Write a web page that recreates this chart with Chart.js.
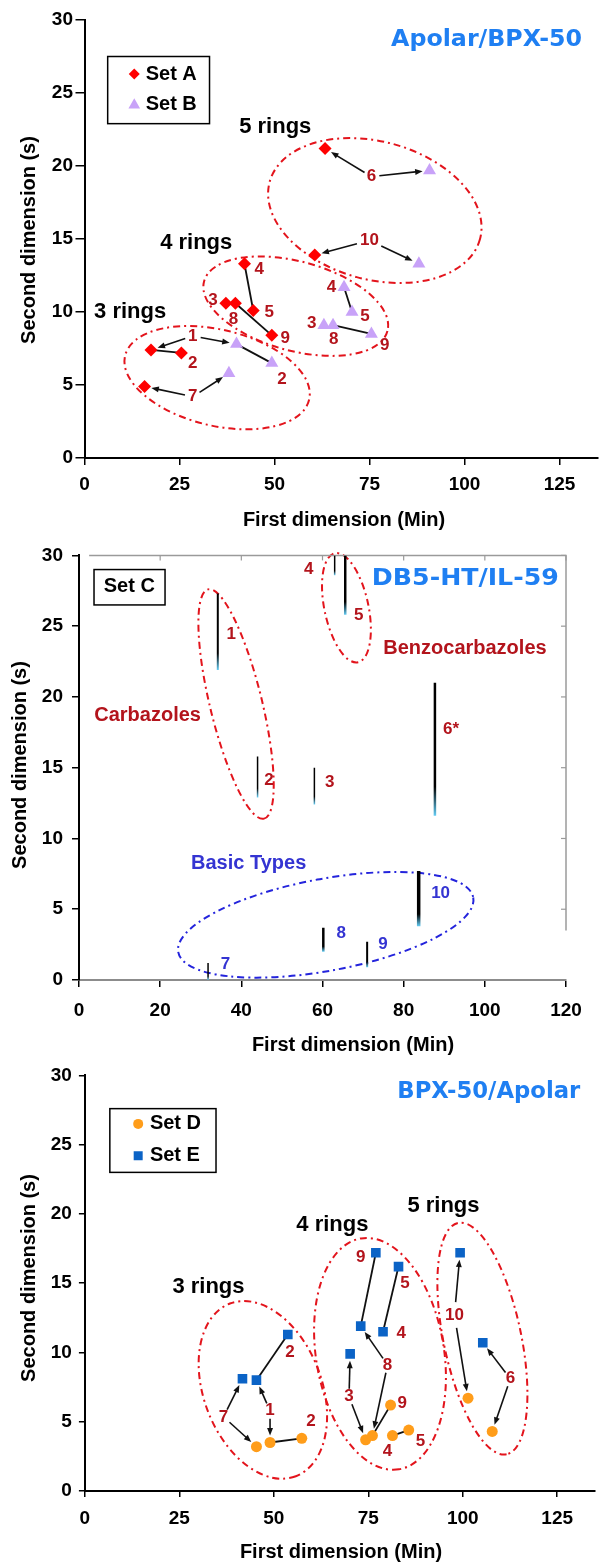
<!DOCTYPE html>
<html>
<head>
<meta charset="utf-8">
<script src="https://cdn.jsdelivr.net/npm/chart.js@4.4.0/dist/chart.umd.min.js"></script>
<style>
  body { margin: 0; background: #fff; width: 605px; height: 1563px; position: relative; overflow: hidden; }
  canvas { position: absolute; left: 0; }
</style>
</head>
<body>
<canvas id="c1" width="605" height="535" style="top:0px"></canvas>
<canvas id="c2" width="605" height="522" style="top:535px"></canvas>
<canvas id="c3" width="605" height="506" style="top:1057px"></canvas>
<script>
// ---- data (compound number n is at index n-1) ----
const compounds = [1, 2, 3, 4, 5, 6, 7, 8, 9, 10];

// Apolar/BPX-50
const setA_x = [17.5, 25.5, 37.2, 42.1, 44.4, 63.3, 15.8, 39.7, 49.3, 60.6];
const setA_y = [7.4, 7.2, 10.6, 13.3, 10.1, 21.2, 4.9, 10.6, 8.4, 13.9];
const setB_x = [40.0, 49.3, 63.0, 68.3, 70.4, 90.8, 38.0, 65.4, 75.5, 88.0];
const setB_y = [7.8, 6.5, 9.1, 11.7, 10.0, 19.7, 5.8, 9.1, 8.5, 13.3];

// DB5-HT/IL-59 (peaks: first dimension, top and bottom of streak)
const setC_names = ['1', '2', '3', '4', '5', '6*', '7', '8', '9', '10'];
const setC_x = [34.2, 44.0, 58.0, 63.0, 65.6, 87.7, 31.8, 60.2, 71.0, 83.7];
const setC_top = [27.3, 15.8, 15.0, 30.0, 30.0, 21.0, 1.2, 3.7, 2.7, 7.7];
const setC_bottom = [21.9, 12.9, 12.4, 28.6, 25.8, 11.6, 0.0, 2.0, 0.9, 3.8];

// BPX-50/Apolar
const setD_x = [49.0, 57.4, 74.3, 81.4, 85.7, 107.8, 45.4, 76.1, 80.9, 101.4];
const setD_y = [3.5, 3.8, 3.7, 4.0, 4.4, 4.3, 3.2, 4.0, 6.2, 6.7];
const setE_x = [45.4, 53.7, 70.2, 78.9, 83.0, 105.3, 41.7, 73.0, 77.0, 99.3];
const setE_y = [8.0, 11.3, 9.9, 11.5, 16.2, 10.7, 8.1, 11.9, 17.2, 17.2];

const ticks_x125 = [0, 25, 50, 75, 100, 125];
const ticks_x120 = [0, 20, 40, 60, 80, 100, 120];
const ticks_y = [0, 5, 10, 15, 20, 25, 30];

// ---- styles ----
const FONT = "'Liberation Sans', Arial, sans-serif";
const TFONT = "'DejaVu Sans', sans-serif";
const RED = '#e3141c';
const RED_LBL = '#b3141c';
const BLUE = '#2424dc';
const BLUE_LBL = '#3434d2';
const TITLE_BLUE = '#1f7ff2';
const peakWidths = [2, 1.5, 1.5, 1.5, 2.5, 2.5, 1.5, 2.5, 2, 3.5];

const sets = {
  A: [setA_x, setA_y], B: [setB_x, setB_y],
  D: [setD_x, setD_y], E: [setE_x, setE_y]
};
const P = (s, n) => [sets[s][0][n - 1], sets[s][1][n - 1]];
const series = (xs, ys) => xs.map((x, i) => ({ x: x, y: ys[i] }));

// ---- annotations for each panel ----
const ANN = {
  c1: {
    ellipses: [
      { cx: 76.4, cy: 16.95, a: 109, b: 69, rot: 15.2, color: RED },
      { cx: 55.6, cy: 10.4, a: 95, b: 44.6, rot: 15.2, color: RED },
      { cx: 34.9, cy: 5.5, a: 94.6, b: 48, rot: 13.5, color: RED }
    ],
    links: [['A', 1, 'A', 2], ['A', 4, 'A', 5], ['A', 8, 'A', 9], ['B', 1, 'B', 2], ['B', 4, 'B', 5], ['B', 8, 'B', 9]],
    arrowLabels: [
      { t: '1', x: 28.5, y: 8.36, to: [['A', 1], ['B', 1]] },
      { t: '7', x: 28.5, y: 4.2, to: [['A', 7], ['B', 7]] },
      { t: '6', x: 75.5, y: 19.27, to: [['A', 6], ['B', 6]] },
      { t: '10', x: 75.0, y: 14.9, to: [['A', 10], ['B', 10]] }
    ],
    labels: [
      ['2', 28.5, 6.5], ['4', 46, 12.9], ['3', 33.8, 10.8], ['8', 39.2, 9.5], ['5', 48.6, 10.0], ['9', 52.8, 8.2],
      ['4', 65, 11.7], ['5', 73.8, 9.7], ['3', 59.8, 9.2], ['8', 65.6, 8.1], ['9', 79, 7.7], ['2', 52, 5.4]
    ],
    labelColor: RED_LBL,
    texts: [
      { t: '5 rings', x: 50.2, y: 22.7 },
      { t: '4 rings', x: 29.4, y: 14.7 },
      { t: '3 rings', x: 12.0, y: 10.0 }
    ],
    title: { t: 'Apolar/BPX-50', x: 105.8, y: 28.6, w: 191 },
    legend: { x1: 6.1, y1: 27.5, x2: 32.9, y2: 22.9, mx: 13.1, tx: 16.1,
      rows: [{ y: 26.3, t: 'Set A', style: 'rectRot', r: 5.5, color: '#ff0000' },
             { y: 24.2, t: 'Set B', style: 'triangle', r: 6.5, color: '#c8a2f8' }] },
    xTitle: [344, 520], yTitle: [29, 240]
  },
  c2: {
    ellipses: [
      { cx: 38.7, cy: 19.5, a: 118, b: 26, rot: 76.3, color: RED },
      { cx: 65.9, cy: 26.3, a: 55.7, b: 22, rot: 78, color: RED },
      { cx: 60.8, cy: 3.9, a: 150, b: 46, rot: -10.5, color: BLUE }
    ],
    labels: [
      ['1', 37.5, 24.4, RED_LBL], ['2', 46.8, 14.1, RED_LBL], ['3', 61.8, 14.0, RED_LBL],
      ['4', 56.6, 29.0, RED_LBL], ['5', 68.9, 25.8, RED_LBL], ['6*', 91.7, 17.7, RED_LBL],
      ['7', 36.1, 1.1, BLUE_LBL], ['8', 64.6, 3.3, BLUE_LBL], ['9', 74.9, 2.5, BLUE_LBL], ['10', 89.1, 6.1, BLUE_LBL]
    ],
    labelColor: RED_LBL,
    words: [
      { t: 'Carbazoles', x: 16.9, y: 18.7, c: RED_LBL },
      { t: 'Benzocarbazoles', x: 95.1, y: 23.4, c: RED_LBL },
      { t: 'Basic Types', x: 41.8, y: 8.2, c: BLUE_LBL }
    ],
    title: { t: 'DB5-HT/IL-59', x: 95.2, y: 28.3, w: 187 },
    box: { x1: 3.7, y1: 29.0, x2: 21.2, y2: 26.5, t: 'Set C', tx: 12.4, ty: 27.8 },
    frame: { from: 2.5, rightEnd: 3.5 },
    xTitle: [353, 510], yTitle: [20, 230]
  },
  c3: {
    ellipses: [
      { cx: 47.1, cy: 7.3, a: 92.4, b: 59, rot: 69.1, color: RED },
      { cx: 78.1, cy: 9.9, a: 117, b: 64, rot: 80.7, color: RED },
      { cx: 105.2, cy: 11.0, a: 118.2, b: 38.8, rot: 78.2, color: RED }
    ],
    links: [['E', 1, 'E', 2], ['D', 1, 'D', 2], ['E', 9, 'E', 8], ['E', 5, 'E', 4], ['D', 9, 'D', 8], ['D', 5, 'D', 4]],
    arrowLabels: [
      { t: '7', x: 36.7, y: 5.35, to: [['E', 7], ['D', 7]] },
      { t: '1', x: 49.0, y: 5.8, to: [['E', 1], ['D', 1]] },
      { t: '3', x: 69.9, y: 6.8, to: [['E', 3], ['D', 3]] },
      { t: '8', x: 80.1, y: 9.1, to: [['E', 8], ['D', 8]] },
      { t: '10', x: 97.8, y: 12.7, to: [['E', 10], ['D', 10]] },
      { t: '6', x: 112.6, y: 8.1, to: [['E', 6], ['D', 6]] }
    ],
    labels: [
      ['2', 54.3, 10.0], ['2', 59.8, 5.0], ['4', 83.7, 11.4], ['4', 80.1, 2.9],
      ['5', 88.8, 3.6], ['5', 84.7, 15.0], ['9', 73.0, 16.9], ['9', 84.0, 6.3]
    ],
    labelColor: RED_LBL,
    texts: [
      { t: '3 rings', x: 32.7, y: 14.7 },
      { t: '4 rings', x: 65.5, y: 19.2 },
      { t: '5 rings', x: 94.9, y: 20.6 }
    ],
    title: { t: 'BPX-50/Apolar', x: 106.9, y: 28.8, w: 183 },
    legend: { x1: 6.6, y1: 27.6, x2: 34.7, y2: 23.0, mx: 14.1, tx: 17.2,
      rows: [{ y: 26.5, t: 'Set D', style: 'circle', r: 5, color: '#ff9d1a' },
             { y: 24.2, t: 'Set E', style: 'rect', r: 6, color: '#0b63c6' }] },
    xTitle: [341, 495], yTitle: [29, 221]
  }
};

// ---- drawing helpers ----
function drawMarker(ctx, style, x, y, r, color) {
  ctx.fillStyle = color;
  ctx.beginPath();
  if (style === 'rectRot') {
    ctx.moveTo(x, y - r); ctx.lineTo(x + r, y); ctx.lineTo(x, y + r); ctx.lineTo(x - r, y);
  } else if (style === 'triangle') {
    ctx.moveTo(x, y - r); ctx.lineTo(x + r * 0.9, y + r * 0.6); ctx.lineTo(x - r * 0.9, y + r * 0.6);
  } else if (style === 'rect') {
    ctx.rect(x - r * 0.75, y - r * 0.75, r * 1.5, r * 1.5);
  } else {
    ctx.arc(x, y, r, 0, Math.PI * 2);
  }
  ctx.closePath();
  ctx.fill();
}

function arrow(ctx, x1, y1, x2, y2) {
  const ang = Math.atan2(y2 - y1, x2 - x1);
  const h = 8;
  ctx.beginPath();
  ctx.moveTo(x1, y1);
  ctx.lineTo(x2 - Math.cos(ang) * h * 0.6, y2 - Math.sin(ang) * h * 0.6);
  ctx.stroke();
  ctx.beginPath();
  ctx.moveTo(x2, y2);
  ctx.lineTo(x2 - h * Math.cos(ang - 0.38), y2 - h * Math.sin(ang - 0.38));
  ctx.lineTo(x2 - h * Math.cos(ang + 0.38), y2 - h * Math.sin(ang + 0.38));
  ctx.closePath();
  ctx.fill();
}

function stretchText(ctx, t, x, y, font, color, w) {
  ctx.save();
  ctx.font = font;
  const m = ctx.measureText(t).width;
  ctx.translate(x, y);
  ctx.scale(w / m, 1);
  ctx.fillStyle = color;
  ctx.textAlign = 'center';
  ctx.textBaseline = 'middle';
  ctx.fillText(t, 0, 0);
  ctx.restore();
}

function peakGradient(c, i) {
  const ch = c.chart;
  const ys = ch.scales && ch.scales.y;
  if (!ys || !ch.chartArea) return '#000';
  const t = ys.getPixelForValue(setC_top[i]);
  const b = ys.getPixelForValue(setC_bottom[i]);
  if (!isFinite(t) || !isFinite(b) || b - t < 2) return '#000';
  const g = ch.ctx.createLinearGradient(0, t, 0, b);
  g.addColorStop(0, '#000');
  g.addColorStop(0.78, '#000');
  g.addColorStop(1, '#63cdf5');
  return g;
}

const overlay = {
  id: 'overlay',
  beforeDatasetsDraw(chart) {
    const A = ANN[chart.canvas.id];
    const ctx = chart.ctx;
    const X = v => chart.scales.x.getPixelForValue(v);
    const Y = v => chart.scales.y.getPixelForValue(v);
    ctx.save();
    (A.ellipses || []).forEach(e => {
      ctx.beginPath();
      ctx.ellipse(X(e.cx), Y(e.cy), e.a, e.b, e.rot * Math.PI / 180, 0, Math.PI * 2);
      ctx.setLineDash([7, 4, 2, 4]);
      ctx.lineWidth = 2;
      ctx.strokeStyle = e.color;
      ctx.stroke();
    });
    ctx.setLineDash([]);
    ctx.strokeStyle = '#111';
    ctx.lineWidth = 1.8;
    (A.links || []).forEach(l => {
      const p1 = P(l[0], l[1]), p2 = P(l[2], l[3]);
      ctx.beginPath();
      ctx.moveTo(X(p1[0]), Y(p1[1]));
      ctx.lineTo(X(p2[0]), Y(p2[1]));
      ctx.stroke();
    });
    // frame of the middle panel
    if (A.frame) {
      ctx.strokeStyle = '#9a9a9a';
      ctx.lineWidth = 1.5;
      ctx.beginPath();
      ctx.moveTo(X(A.frame.from), Y(30));
      ctx.lineTo(X(120), Y(30));
      ctx.lineTo(X(120), Y(A.frame.rightEnd));
      ctx.stroke();
      ctx.lineWidth = 1.2;
      ticks_x120.slice(1).forEach(v => {
        ctx.beginPath(); ctx.moveTo(X(v), Y(30)); ctx.lineTo(X(v), Y(30) + 5); ctx.stroke();
      });
      ticks_y.filter(v => v >= A.frame.rightEnd).forEach(v => {
        ctx.beginPath(); ctx.moveTo(X(120), Y(v)); ctx.lineTo(X(120) - 5, Y(v)); ctx.stroke();
      });
    }
    ctx.restore();
  },
  afterDatasetsDraw(chart) {
    const A = ANN[chart.canvas.id];
    const ctx = chart.ctx;
    const X = v => chart.scales.x.getPixelForValue(v);
    const Y = v => chart.scales.y.getPixelForValue(v);
    ctx.save();
    ctx.textAlign = 'center';
    ctx.textBaseline = 'middle';

    // arrows from number labels to their points
    ctx.strokeStyle = '#111';
    ctx.fillStyle = '#111';
    ctx.lineWidth = 1.6;
    (A.arrowLabels || []).forEach(l => {
      const lx = X(l.x), ly = Y(l.y);
      const gap = l.t.length > 1 ? 13 : 8;
      l.to.forEach(tg => {
        const p = P(tg[0], tg[1]);
        const tx = X(p[0]), ty = Y(p[1]);
        const d = Math.hypot(tx - lx, ty - ly);
        const ux = (tx - lx) / d, uy = (ty - ly) / d;
        arrow(ctx, lx + ux * gap, ly + uy * gap, tx - ux * 7, ty - uy * 7);
      });
    });
    ctx.font = 'bold 17px ' + FONT;
    (A.arrowLabels || []).forEach(l => {
      ctx.fillStyle = A.labelColor;
      ctx.fillText(l.t, X(l.x), Y(l.y));
    });
    (A.labels || []).forEach(l => {
      ctx.fillStyle = l[3] || A.labelColor;
      ctx.fillText(l[0], X(l[1]), Y(l[2]));
    });

    // ring group names
    ctx.font = 'bold 22px ' + FONT;
    ctx.fillStyle = '#000';
    (A.texts || []).forEach(t => ctx.fillText(t.t, X(t.x), Y(t.y)));
    ctx.font = 'bold 20px ' + FONT;
    (A.words || []).forEach(t => { ctx.fillStyle = t.c; ctx.fillText(t.t, X(t.x), Y(t.y)); });

    // panel title
    if (A.title) stretchText(ctx, A.title.t, X(A.title.x), Y(A.title.y), 'bold 23px ' + TFONT, TITLE_BLUE, A.title.w);

    // legend box
    if (A.legend) {
      const g = A.legend;
      ctx.strokeStyle = '#000';
      ctx.lineWidth = 1.5;
      ctx.strokeRect(X(g.x1), Y(g.y1), X(g.x2) - X(g.x1), Y(g.y2) - Y(g.y1));
      ctx.font = 'bold 20px ' + FONT;
      ctx.textAlign = 'left';
      g.rows.forEach(r => {
        drawMarker(ctx, r.style, X(g.mx), Y(r.y), r.r, r.color);
        ctx.fillStyle = '#000';
        ctx.fillText(r.t, X(g.tx), Y(r.y));
      });
      ctx.textAlign = 'center';
    }
    if (A.box) {
      const b = A.box;
      ctx.strokeStyle = '#000';
      ctx.lineWidth = 1.5;
      ctx.strokeRect(X(b.x1), Y(b.y1), X(b.x2) - X(b.x1), Y(b.y2) - Y(b.y1));
      ctx.font = 'bold 20px ' + FONT;
      ctx.fillStyle = '#000';
      ctx.fillText(b.t, X(b.tx), Y(b.ty));
    }

    // axis titles
    ctx.font = 'bold 20px ' + FONT;
    ctx.fillStyle = '#000';
    ctx.fillText('First dimension (Min)', A.xTitle[0], A.xTitle[1]);
    ctx.save();
    ctx.translate(A.yTitle[0], A.yTitle[1]);
    ctx.rotate(-Math.PI / 2);
    ctx.fillText('Second dimension (s)', 0, 0);
    ctx.restore();
    ctx.restore();
  }
};
Chart.register(overlay);

function makeChart(id, datasets, p) {
  return new Chart(document.getElementById(id), {
    type: 'scatter',
    data: { datasets: datasets },
    options: {
      responsive: false,
      animation: false,
      events: [],
      layout: { padding: { top: p.top, right: p.right, bottom: 0, left: 0 } },
      plugins: { legend: { display: false }, tooltip: { enabled: false } },
      scales: {
        x: {
          type: 'linear', min: 0, max: p.xmax,
          afterBuildTicks: s => { s.ticks = p.xticks.map(v => ({ value: v })); },
          afterFit: s => { s.height = p.xh; },
          border: { display: true, color: p.xBorder, width: 2 },
          grid: { display: true, drawOnChartArea: false, drawTicks: true, tickLength: p.xtl, color: '#000', lineWidth: 1.5 },
          ticks: { color: '#000', font: { family: FONT, size: 19, weight: 'bold' }, padding: p.xpad, maxRotation: 0, autoSkip: false },
          title: { display: false }
        },
        y: {
          type: 'linear', min: 0, max: 30,
          afterBuildTicks: s => { s.ticks = ticks_y.map(v => ({ value: v })); },
          afterFit: s => { s.width = p.yw; },
          border: { display: true, color: '#000', width: 2 },
          grid: { display: true, drawOnChartArea: false, drawTicks: true, tickLength: p.ytl, color: '#000', lineWidth: 1.5 },
          ticks: { color: '#000', font: { family: FONT, size: 19, weight: 'bold' }, padding: p.ypad, autoSkip: false },
          title: { display: false }
        }
      }
    }
  });
}

// Apolar/BPX-50
makeChart('c1', [
  { label: 'Set A', data: series(setA_x, setA_y), pointStyle: 'rectRot', pointRadius: 6.5,
    backgroundColor: '#ff0000', borderColor: '#ff0000', borderWidth: 0 },
  { label: 'Set B', data: series(setB_x, setB_y), pointStyle: 'triangle', pointRadius: 7.5,
    backgroundColor: '#c8a2f8', borderColor: '#c8a2f8', borderWidth: 0 }
], { top: 20, right: 0, xmax: 135, xticks: ticks_x125, xh: 77, xtl: 7, xpad: 8, yw: 84.5, ytl: 9, ypad: 2.5, xBorder: '#000' });

// DB5-HT/IL-59
makeChart('c2', setC_x.map((x, i) => ({
  label: setC_names[i],
  data: [{ x: x, y: setC_top[i] }, { x: x, y: setC_bottom[i] }],
  showLine: true, pointRadius: 0, borderWidth: peakWidths[i],
  borderCapStyle: 'butt',
  borderColor: c => peakGradient(c, i)
})), { top: 15, right: 39, xmax: 120, xticks: ticks_x120, xh: 77, xtl: 7, xpad: 12, yw: 79, ytl: 7, ypad: 9, xBorder: '#8c8c8c' });

// BPX-50/Apolar
makeChart('c3', [
  { label: 'Set D', data: series(setD_x, setD_y), pointStyle: 'circle', pointRadius: 5.5,
    backgroundColor: '#ff9d1a', borderColor: '#ff9d1a', borderWidth: 0 },
  { label: 'Set E', data: series(setE_x, setE_y), pointStyle: 'rect', pointRadius: 6.8,
    backgroundColor: '#0b63c6', borderColor: '#0b63c6', borderWidth: 0 }
], { top: 8, right: 10, xmax: 135, xticks: ticks_x125, xh: 72, xtl: 6, xpad: 10, yw: 84.9, ytl: 6, ypad: 7, xBorder: '#000' });
</script>
</body>
</html>
